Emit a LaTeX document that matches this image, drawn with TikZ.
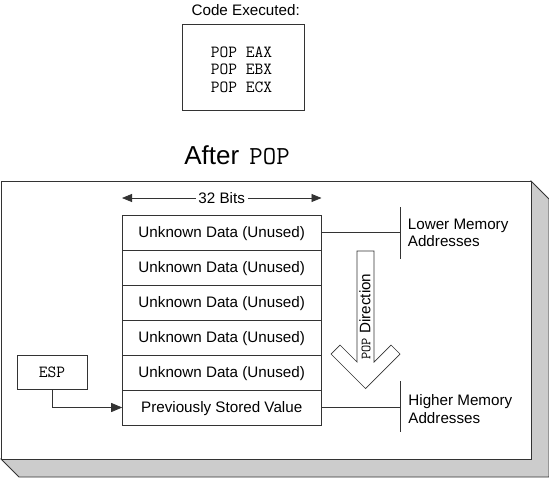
\documentclass[tikz,border=0pt]{standalone}
\usepackage{fontspec}
\setmainfont{Liberation Sans}
\usetikzlibrary{arrows.meta}
\begin{document}
\begin{tikzpicture}[x=1pt,y=-1pt,
  line width=0.8pt,
  lc/.style={draw=black!80},
  tip/.style={-{Triangle[length=10pt,width=8pt]}},
  rowbox/.style={lc, minimum width=199pt, minimum height=35pt, inner sep=0pt, outer sep=0pt,
    font=\fontsize{15.2}{17.5}\selectfont, text height=10.9pt, text depth=0pt},
  lbl/.style={font=\fontsize{15.2}{17.5}\selectfont, inner sep=0pt, align=left},
  mono/.style={font=\fontsize{17}{17.7}\selectfont\ttfamily, inner sep=0pt}
]
\useasboundingbox (0,0) rectangle (549,477);

% title and code box
\node[font=\fontsize{15.2}{18}\selectfont, anchor=base, inner sep=0pt] (codetitle) at (245.7,15.5) {Code Executed:};
\node[lc, minimum width=122pt, minimum height=86pt, inner sep=0pt] (codebox) at (243.7,67.3) {};
\node[mono, align=left, anchor=base west] (code) at (210.5,92.5) {POP EAX\\POP EBX\\POP ECX};

\node[font=\fontsize{26}{30}\selectfont, anchor=base, inner sep=0pt] (after) at (237,164.5) {After\hspace{3pt} {\ttfamily POP}};

% frame with shadow
\draw[lc, fill=gray!40] (531,181) -- (549,199) -- (549,477) -- (19,477) -- (1,459) -- (531,459) -- cycle;
\draw[lc, fill=white] (1,181) rectangle (531,459);

% 32 bits
\coordinate (bl) at (122,198);
\coordinate (br) at (321.5,198);
\node[font=\fontsize{15.2}{18}\selectfont, inner sep=2.5pt, text height=10.9pt, text depth=0pt] (bits) at (221.7,198) {32 Bits};
\draw[lc, tip] (bits.west) -- (bl);
\draw[lc, tip] (bits.east) -- (br);

% memory rows
\node[rowbox] (r1) at (221.7,232.5) {Unknown Data (Unused)};
\node[rowbox] (r2) at (221.7,267.5) {Unknown Data (Unused)};
\node[rowbox] (r3) at (221.7,302.5) {Unknown Data (Unused)};
\node[rowbox] (r4) at (221.7,337.5) {Unknown Data (Unused)};
\node[rowbox] (r5) at (221.7,372.5) {Unknown Data (Unused)};
\node[rowbox] (r6) at (221.7,407.5) {Previously Stored Value};

% ESP
\node[lc, mono, minimum width=70pt, minimum height=34pt, text height=11pt, text depth=0pt] (esp) at (52,372) {ESP};
\draw[lc, -{Triangle[length=11pt,width=9pt]}] (esp.south) |- (r6.west);

% address markers
\coordinate (lowtop) at (400,207);
\coordinate (lowbot) at (400,259);
\coordinate (lowmid) at (400,232.5);
\draw[lc] (lowtop) -- (lowbot);
\draw[lc] (r1.east) -- (lowmid);
\node[lbl, anchor=base west] (lowtxt) at (407.5,246.7) {Lower Memory\\Addresses};

\coordinate (hightop) at (400,381);
\coordinate (highbot) at (400,432);
\coordinate (highmid) at (400,407.5);
\draw[lc] (hightop) -- (highbot);
\draw[lc] (r6.east) -- (highmid);
\node[lbl, anchor=base west] (hightxt) at (408,423) {Higher Memory\\Addresses};

% POP direction block arrow
\draw[lc, fill=white, line width=0.7pt] (357,251) -- (374,251) -- (374,362) -- (391,345) -- (400,354)
  -- (365.5,388.5) -- (331,354) -- (340,345) -- (357,362) -- cycle;
\node[rotate=90, anchor=base, inner sep=0pt, font=\fontsize{15.2}{18}\selectfont] (popdir) at (370.3,316.5)
  {{\fontsize{14}{16}\selectfont\ttfamily POP} Direction};
\end{tikzpicture}
\end{document}
